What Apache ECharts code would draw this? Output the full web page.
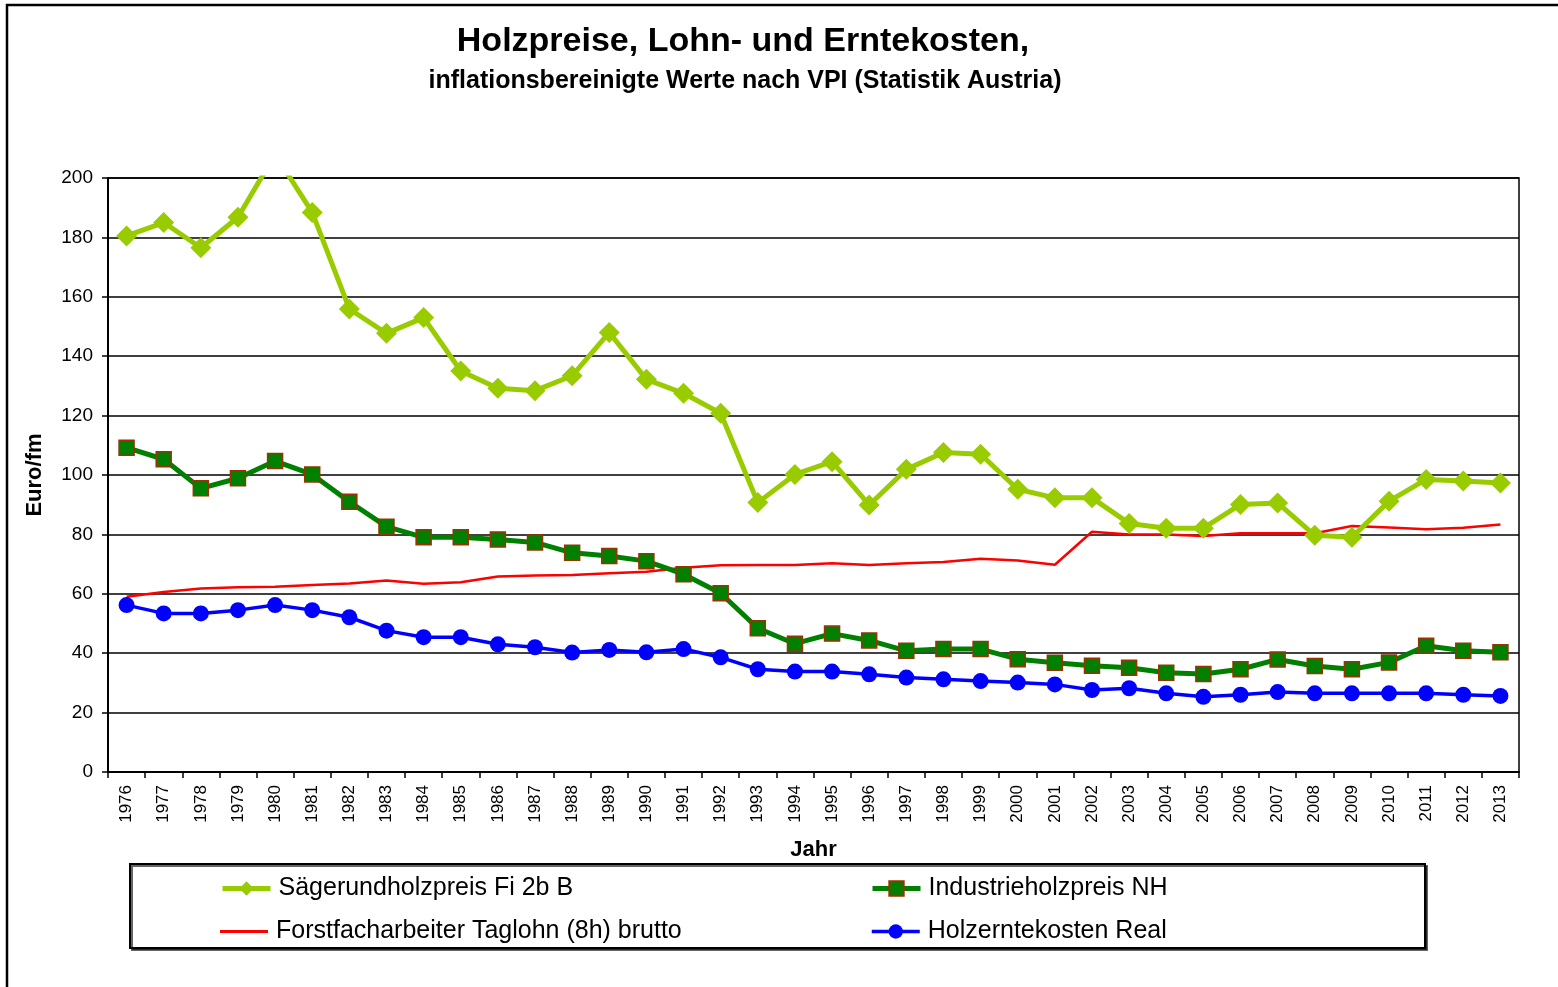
<!DOCTYPE html>
<html>
<head>
<meta charset="utf-8">
<script src="https://cdn.jsdelivr.net/npm/echarts@6/dist/echarts.min.js"></script>
<style>
html,body{margin:0;padding:0;background:#fff;}
#chart{width:1558px;height:987px;}
</style>
</head>
<body>
<div id="chart"></div>
<script>
const years = ['1976','1977','1978','1979','1980','1981','1982','1983','1984','1985','1986','1987','1988','1989','1990','1991','1992','1993','1994','1995','1996','1997','1998','1999','2000','2001','2002','2003','2004','2005','2006','2007','2008','2009','2010','2011','2012','2013'];
const yTicks = [0,20,40,60,80,100,120,140,160,180,200];

const saegerundholz = [180.5,185,176.5,186.8,208,188.4,155.9,147.7,153,135,129.2,128.4,133.4,148,132.2,127.5,120.8,90.7,100.2,104.5,89.9,101.9,107.6,107,95.2,92.3,92.3,83.7,82.1,82.1,90.1,90.6,79.7,79,91.2,98.5,98,97.3];
const industrieholz = [109.2,105.3,95.5,98.9,104.7,100.2,91,82.6,79,79,78.3,77.3,73.8,72.7,71,66.6,60.2,48.4,43.2,46.6,44.3,40.8,41.4,41.4,38,36.8,35.8,35.1,33.4,33,34.6,37.9,35.7,34.6,36.9,42.5,40.8,40.3];
const taglohn = [59,60.6,61.8,62.2,62.4,63,63.5,64.5,63.4,63.9,65.8,66.2,66.3,66.9,67.4,68.8,69.6,69.7,69.7,70.3,69.7,70.3,70.7,71.8,71.2,69.8,80.9,80,80,79.5,80.4,80.4,80.4,82.8,82.3,81.7,82.2,83.3];
const erntekosten = [56.2,53.4,53.4,54.5,56.2,54.5,52.1,47.6,45.4,45.4,43,42,40.2,41.1,40.3,41.4,38.6,34.6,33.8,33.8,32.9,31.8,31.2,30.6,30.1,29.5,27.6,28.2,26.5,25.3,26,26.9,26.5,26.5,26.5,26.5,26,25.6];

const names = ['Sägerundholzpreis Fi 2b B','Industrieholzpreis NH','Forstfacharbeiter Taglohn (8h) brutto','Holzerntekosten Real'];
const FONT = "'Liberation Sans', Arial, sans-serif";

const chart = echarts.init(document.getElementById('chart'), null, {renderer:'canvas'});
const legendCommon = {
  orient:'horizontal', padding:0, itemWidth:48, itemHeight:18, itemGap:0,
  textStyle:{fontFamily:FONT, fontSize:25, color:'#000', padding:[0,0,0,3]},
  selectedMode:false
};
chart.setOption({
  animation:false,
  backgroundColor:'#fff',
  title:[
    {text:'Holzpreise, Lohn- und Erntekosten,', left:743, top:25, padding:0, textAlign:'center',
     textStyle:{fontFamily:FONT, fontSize:34, fontWeight:'bold', color:'#000'}},
    {text:'inflationsbereinigte Werte nach VPI (Statistik Austria)', left:745, top:69, padding:0, textAlign:'center',
     textStyle:{fontFamily:FONT, fontSize:25, fontWeight:'bold', color:'#000'}}
  ],
  graphic:[
    {type:'rect', shape:{x:7, y:5, width:1600, height:1100}, style:{fill:'none', stroke:'#000', lineWidth:2.5}, silent:true, z:-1},
    {type:'rect', shape:{x:130, y:864, width:1295, height:84}, style:{fill:'#fff', stroke:'#000', lineWidth:2, shadowColor:'rgba(0,0,0,0.6)', shadowOffsetX:2, shadowOffsetY:2, shadowBlur:0}, silent:true, z:-1}
  ],
  legend:[
    Object.assign({}, legendCommon, {data:[names[0]], left:220, top:876, lineStyle:{width:5}}),
    Object.assign({}, legendCommon, {data:[names[1]], left:870, top:876, lineStyle:{width:5}}),
    Object.assign({}, legendCommon, {data:[{name:names[2], icon:'path://M0,0 L48,0 L48,3 L0,3 Z'}], left:220, top:919}),
    Object.assign({}, legendCommon, {data:[names[3]], left:870, top:919, lineStyle:{width:3.5}})
  ],
  grid:{left:108, right:39, top:178, bottom:215, show:true, borderColor:'#000', borderWidth:1.5, backgroundColor:'transparent', containLabel:false},
  xAxis:{
    type:'category', data:years, boundaryGap:true,
    name:'Jahr', nameLocation:'middle', nameGap:67,
    nameTextStyle:{fontFamily:FONT, fontSize:22, fontWeight:'bold', color:'#000'},
    axisLine:{show:true, lineStyle:{color:'#000', width:2}},
    axisTick:{show:true, interval:0, length:6, lineStyle:{color:'#000', width:1.5}},
    axisLabel:{interval:0, rotate:90, margin:13, fontFamily:FONT, fontSize:17, color:'#000'},
    splitLine:{show:false}
  },
  yAxis:{
    type:'value', min:yTicks[0], max:yTicks[yTicks.length-1], interval:yTicks[1]-yTicks[0],
    name:'Euro/fm', nameLocation:'middle', nameGap:62, nameRotate:90,
    nameTextStyle:{fontFamily:FONT, fontSize:22, fontWeight:'bold', color:'#000'},
    axisLine:{show:true, lineStyle:{color:'#000', width:2}},
    axisTick:{show:true, length:6, lineStyle:{color:'#000', width:1.5}},
    axisLabel:{margin:15, fontFamily:FONT, fontSize:19, color:'#000'},
    splitLine:{show:true, lineStyle:{color:'#000', width:1.5}}
  },
  series:[
    {name:names[0], type:'line', data:saegerundholz, z:4, clip:true,
     symbol:'diamond', symbolSize:21, showAllSymbol:true,
     itemStyle:{color:'#99CC00'}, lineStyle:{color:'#99CC00', width:5}},
    {name:names[1], type:'line', data:industrieholz, z:4,
     symbol:'rect', symbolSize:15, showAllSymbol:true,
     itemStyle:{color:'#008000', borderColor:'#993300', borderWidth:1.5}, lineStyle:{color:'#008000', width:5}},
    {name:names[2], type:'line', data:taglohn, z:2,
     symbol:'none', showSymbol:false,
     itemStyle:{color:'#FF0000'}, lineStyle:{color:'#FF0000', width:2.5}},
    {name:names[3], type:'line', data:erntekosten, z:4,
     symbol:'circle', symbolSize:16, showAllSymbol:true,
     itemStyle:{color:'#0000FF'}, lineStyle:{color:'#0000FF', width:3.5}}
  ]
});
</script>
</body>
</html>
